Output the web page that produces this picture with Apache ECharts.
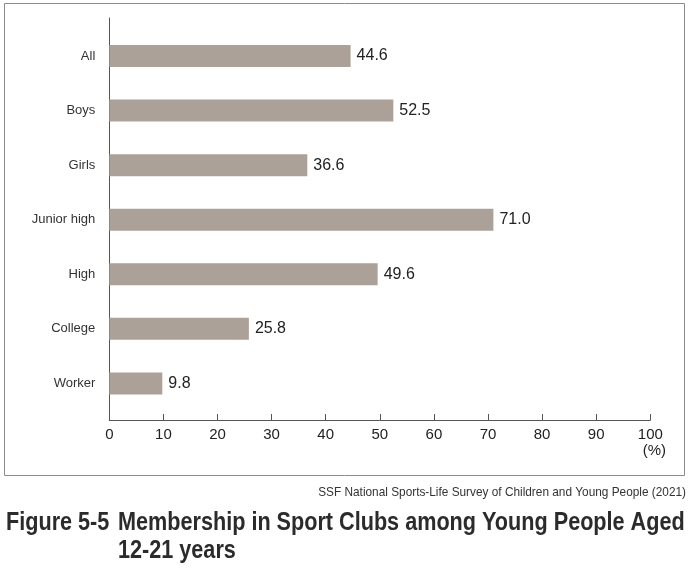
<!DOCTYPE html>
<html>
<head>
<meta charset="utf-8">
<script src="https://cdn.jsdelivr.net/npm/echarts@6/dist/echarts.min.js"></script>
<style>
  html, body { margin: 0; padding: 0; background: #fff; }
  #chart { width: 693px; height: 571px; }
</style>
</head>
<body>
<div id="chart"></div>
<script>
// data
var categories = ['All', 'Boys', 'Girls', 'Junior high', 'High', 'College', 'Worker'];
var membership = [44.6, 52.5, 36.6, 71.0, 49.6, 25.8, 9.8];
var axisMin = 0, axisMax = 100, axisStep = 10;

var sourceText = 'SSF National Sports-Life Survey of Children and Young People (2021)';
var figureNo = 'Figure 5-5';
var figureTitle = ['Membership in Sport Clubs among Young People Aged', '12-21 years'];

var baseFont = '"Liberation Sans", Arial, sans-serif';

var chart = echarts.init(document.getElementById('chart'));

// condensed look for the caption: regular font squeezed horizontally
function narrowText(text, x, y, size, weight, align, squeeze, color) {
    return {
        type: 'text',
        x: x, y: y,
        scaleX: squeeze,
        style: {
            text: text,
            font: weight + ' ' + size + 'px ' + baseFont,
            fill: color,
            align: align,
            verticalAlign: 'middle'
        }
    };
}

var option = {
    backgroundColor: '#fff',
    animation: false,
    textStyle: { fontFamily: baseFont },
    graphic: [
        narrowText(sourceText, 686, 492, 13, 'normal', 'right', 0.91, '#333'),
        narrowText(figureNo, 6, 523, 25, 'bold', 'left', 0.865, '#2b2b2b'),
        narrowText(figureTitle[0], 118, 523, 25, 'bold', 'left', 0.865, '#2b2b2b'),
        narrowText(figureTitle[1], 118, 551, 25, 'bold', 'left', 0.865, '#2b2b2b')
    ],
    grid: [
        // frame around the plot
        { show: true, left: 4.5, top: 3.5, width: 680, height: 472, borderColor: '#8c8c8c', borderWidth: 1, backgroundColor: 'transparent' },
        // axis lines
        { left: 109.3, top: 18, width: 541, height: 402 },
        // bars
        { left: 109.3, top: 28.7, width: 541, height: 382 }
    ],
    xAxis: [
        { gridIndex: 0, show: false, type: 'value' },
        {
            gridIndex: 1,
            type: 'value',
            min: axisMin, max: axisMax, interval: axisStep,
            name: '(%)',
            nameLocation: 'end',
            nameGap: 4,
            nameTextStyle: { fontSize: 15, color: '#222', align: 'center', verticalAlign: 'top', padding: [23, 0, 0, 0] },
            axisLine: { show: true, lineStyle: { color: '#555', width: 1 } },
            axisTick: { show: true, inside: true, length: 6, lineStyle: { color: '#555' } },
            axisLabel: { fontSize: 15, color: '#222', margin: 7 },
            splitLine: { show: false }
        },
        { gridIndex: 2, type: 'value', min: axisMin, max: axisMax, show: false }
    ],
    yAxis: [
        { gridIndex: 0, show: false, type: 'value' },
        {
            gridIndex: 1,
            type: 'value',
            axisLine: { show: true, lineStyle: { color: '#555', width: 1 } },
            axisTick: { show: false },
            axisLabel: { show: false },
            splitLine: { show: false }
        },
        {
            gridIndex: 2,
            type: 'category',
            inverse: true,
            data: categories,
            axisLine: { show: false },
            axisTick: { show: false },
            axisLabel: { fontSize: 13, color: '#333', margin: 14 }
        }
    ],
    series: [{
        type: 'bar',
        xAxisIndex: 2,
        yAxisIndex: 2,
        data: membership,
        barWidth: 22,
        itemStyle: { color: '#aca198' },
        label: {
            show: true,
            position: 'right',
            distance: 6,
            fontSize: 16,
            color: '#222',
            formatter: function (p) { return p.value.toFixed(1); }
        }
    }]
};

chart.setOption(option);
</script>
</body>
</html>
